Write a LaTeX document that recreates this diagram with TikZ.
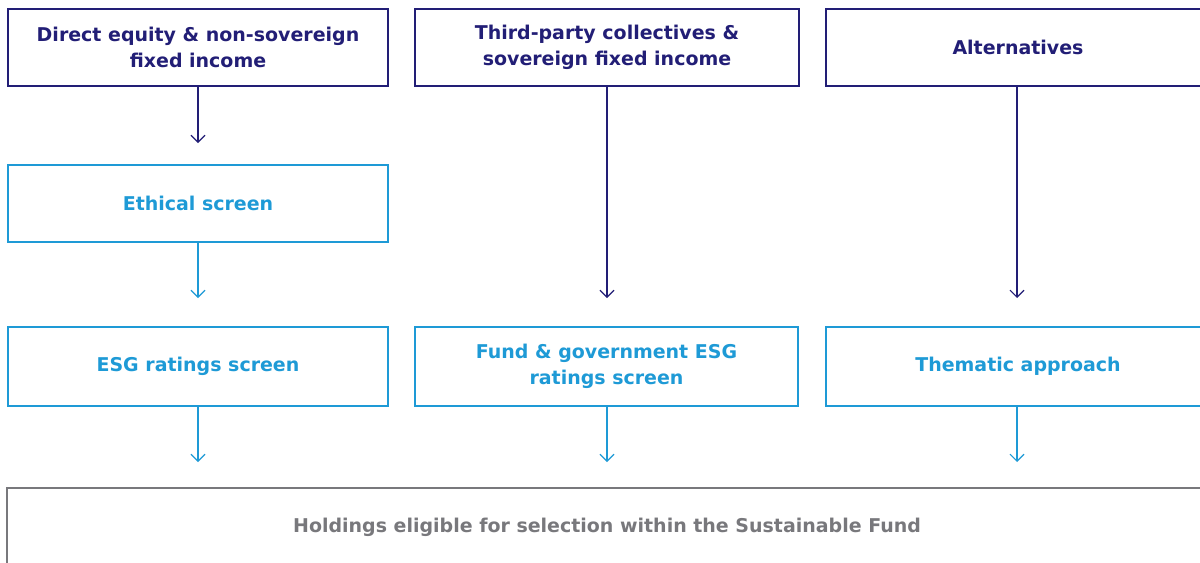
\documentclass[tikz,border=0pt]{standalone}
\usepackage{fontspec}
\setmainfont{DejaVu Sans}
\usepackage{xcolor}
\usetikzlibrary{arrows.meta}

\definecolor{navy}{RGB}{34,30,118}
\definecolor{skyblue}{RGB}{30,154,214}
\definecolor{holdgrey}{RGB}{120,120,124}

\tikzset{
  box/.style={draw, line width=0.9pt, fill=white, minimum height=77*0.025cm,
    align=center, font=\fontsize{13.5}{18.5}\selectfont\bfseries, inner sep=0pt},
  topbox/.style={box, draw=navy, text=navy},
  screenbox/.style={box, draw=skyblue, text=skyblue},
  flow/.style={line width=0.8pt, -{Straight Barb[length=5pt, width=10pt]}},
}

\begin{document}
\begin{tikzpicture}[x=0.025cm, y=-0.025cm]
    \clip (0,0) rectangle (1200,562);
    \fill[white] (0,0) rectangle (1200,562);

    % first row: where the holdings come from
    \node[topbox, minimum width=380*0.025cm] (direct) at (198,47.5) {Direct equity \& non-sovereign\\fixed income};
    \node[topbox, minimum width=384*0.025cm] (collect) at (607,47.5) {Third-party collectives \&\\sovereign fixed income};
    \node[topbox, minimum width=384*0.025cm] (altern) at (1018,47.5) {Alternatives};

    % screens
    \node[screenbox, minimum width=380*0.025cm] (ethical) at (198,203.5) {Ethical screen};
    \node[screenbox, minimum width=380*0.025cm, minimum height=79*0.025cm] (esg) at (198,366.5) {ESG ratings screen};
    \node[screenbox, minimum width=383*0.025cm, minimum height=79*0.025cm] (fund) at (606.5,366.5) {Fund \& government ESG\\ratings screen};
    \node[screenbox, minimum width=384*0.025cm, minimum height=79*0.025cm] (thematic) at (1018,366.5) {Thematic approach};

    % final pool
    \node[box, draw=holdgrey, text=holdgrey, minimum width=1210*0.025cm, minimum height=100*0.025cm,
      text depth=0pt] (pool) at (612,538) {};
    \node[font=\fontsize{13.5}{18.5}\selectfont\bfseries, text=holdgrey] (poolname) at (607,527)
      {Holdings eligible for selection within the Sustainable Fund};

    % arrow ends
    \coordinate (e1) at (198,143);
    \coordinate (e2) at (198,298);
    \coordinate (e3) at (607,298);
    \coordinate (e4) at (1017,298);
    \coordinate (e5) at (198,462);
    \coordinate (e6) at (607,462);
    \coordinate (e7) at (1017,462);

    \draw[flow, navy] (direct.south) -- (e1);
    \draw[flow, skyblue] (ethical.south) -- (e2);
    \draw[flow, navy] (collect.south) -- (e3);
    \draw[flow, navy] (altern.south -| e4) -- (e4);
    \draw[flow, skyblue] (esg.south) -- (e5);
    \draw[flow, skyblue] (fund.south -| e6) -- (e6);
    \draw[flow, skyblue] (thematic.south -| e7) -- (e7);
  \end{tikzpicture}
\end{document}
